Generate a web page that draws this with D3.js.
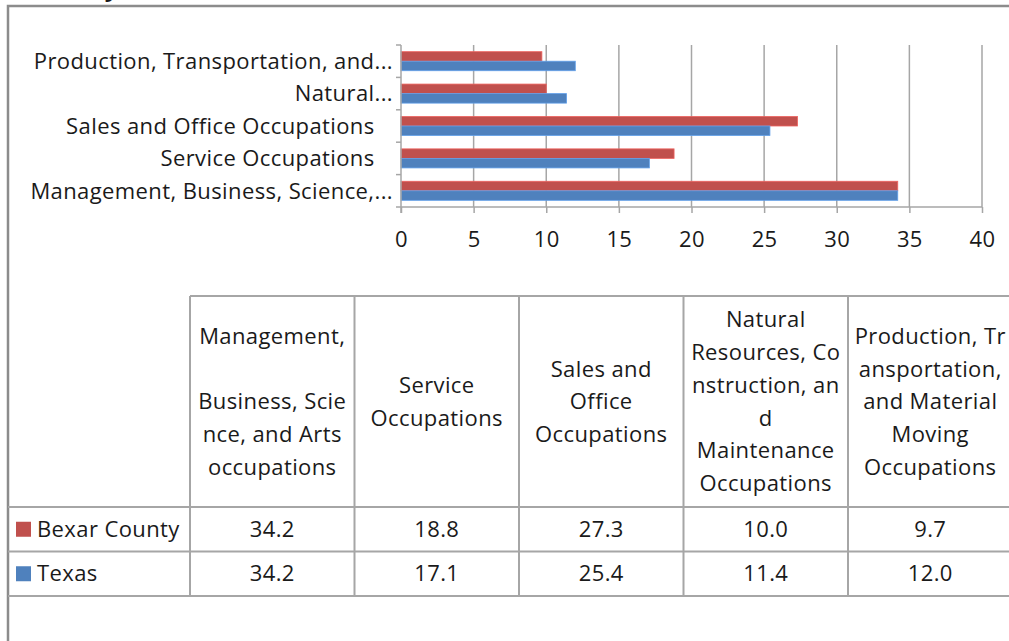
<!DOCTYPE html>
<html>
<head>
<meta charset="utf-8">
<script src="https://cdn.jsdelivr.net/npm/d3@7"></script>
<style>
  body { margin: 0; background: #fff; }
  text { font-family: "Open Sans", sans-serif; fill: #1a1a1a; letter-spacing: 0.4px; }
</style>
</head>
<body>
<div id="chart"></div>
<script>
// categories, bottom to top in the bar chart, left to right in the table
const categories = [
  'Management, Business, Science, and Arts occupations',
  'Service Occupations',
  'Sales and Office Occupations',
  'Natural Resources, Construction, and Maintenance Occupations',
  'Production, Transportation, and Material Moving Occupations'
];
// axis labels as Excel truncates them
const axisLabels = [
  'Management, Business, Science,...',
  'Service Occupations\u00a0\u00a0\u00a0',
  'Sales and Office Occupations\u00a0\u00a0\u00a0',
  'Natural...',
  'Production, Transportation, and...'
];
// table header, wrapped the way the data table wraps it
const headerLines = [
  ['Management,', '', 'Business, Scie', 'nce, and Arts', 'occupations'],
  ['Service', 'Occupations'],
  ['Sales and', 'Office', 'Occupations'],
  ['Natural', 'Resources, Co', 'nstruction, an', 'd', 'Maintenance', 'Occupations'],
  ['Production, Tr', 'ansportation,', 'and Material', 'Moving', 'Occupations']
];
const seriesNames = ['Bexar County', 'Texas'];
const bexar = [34.2, 18.8, 27.3, 10.0, 9.7];
const texas = [34.2, 17.1, 25.4, 11.4, 12.0];
const xTicks = [0, 5, 10, 15, 20, 25, 30, 35, 40];
const colors = ['#C0504D', '#4F81BD'];

const width = 1009, height = 641;
const fs = 22;

const svg = d3.select('#chart')
  .append('svg')
  .attr('width', width)
  .attr('height', height);

// title, almost entirely cut off at the top of the picture
svg.append('text')
  .attr('x', 126).attr('y', -4)
  .attr('text-anchor', 'end')
  .style('font-weight', 'bold')
  .style('font-size', '24px')
  .text('Bexar County,');

// outer chart frame
svg.append('path')
  .attr('d', 'M8,' + height + 'V6H' + width)
  .attr('fill', 'none')
  .attr('stroke', '#8c8c8c')
  .attr('stroke-width', 2.5);

// ---- bar chart ----
const plot = {left: 401, right: 982, top: 45, bottom: 207};

const x = d3.scaleLinear()
  .domain([0, 40])
  .range([plot.left, plot.right]);

const y = d3.scaleBand()
  .domain(categories)
  .range([plot.bottom, plot.top]);

const ySub = d3.scaleBand()
  .domain(seriesNames)
  .range([0, y.bandwidth()])
  .paddingOuter(0.7);

const g = svg.append('g');

// gridlines
g.selectAll('line.grid')
  .data(xTicks.slice(1))
  .enter().append('line')
  .attr('class', 'grid')
  .attr('x1', d => x(d)).attr('x2', d => x(d))
  .attr('y1', plot.top).attr('y2', plot.bottom)
  .attr('stroke', '#a6a6a6')
  .attr('stroke-width', 1.5);

const rows = seriesNames.map((s, i) => ({name: s, values: i === 0 ? bexar : texas, color: colors[i]}));

rows.forEach(r => {
  g.selectAll(null)
    .data(categories)
    .enter().append('rect')
    .attr('x', x(0))
    .attr('y', d => y(d) + ySub(r.name))
    .attr('width', (d, i) => x(r.values[i]) - x(0))
    .attr('height', ySub.bandwidth())
    .attr('fill', r.color)
    .attr('stroke', d3.color(r.color).brighter(0.6))
    .attr('stroke-width', 0.8);
});

// x axis
const xAxis = g.append('g')
  .attr('transform', 'translate(0,' + plot.bottom + ')')
  .call(d3.axisBottom(x).tickValues(xTicks).tickSize(6).tickPadding(18));
xAxis.select('.domain').attr('stroke', '#a6a6a6').attr('stroke-width', 1.5)
  .attr('d', 'M' + (plot.left - 5) + ',0H' + plot.right);
xAxis.selectAll('.tick line').attr('stroke', '#a6a6a6').attr('stroke-width', 1.5);
xAxis.selectAll('.tick text').style('font-size', fs + 'px').attr('fill', '#1a1a1a');

// y axis with category boundaries as ticks
const yAxis = g.append('g')
  .attr('transform', 'translate(' + plot.left + ',0)');
yAxis.append('line')
  .attr('x1', 0).attr('x2', 0)
  .attr('y1', plot.top).attr('y2', plot.bottom + 6)
  .attr('stroke', '#a6a6a6').attr('stroke-width', 1.5);
yAxis.selectAll('line.tick')
  .data(categories)
  .enter().append('line')
  .attr('class', 'tick')
  .attr('x1', -5).attr('x2', 0)
  .attr('y1', d => y(d)).attr('y2', d => y(d))
  .attr('stroke', '#a6a6a6').attr('stroke-width', 1.5);
yAxis.selectAll('text')
  .data(categories)
  .enter().append('text')
  .attr('x', -8)
  .attr('y', d => y(d) + y.bandwidth() / 2)
  .attr('dy', '0.35em')
  .attr('text-anchor', 'end')
  .style('font-size', fs + 'px')
  .text((d, i) => axisLabels[i]);

// ---- data table ----
const table = {left: 8, colStart: 190, top: 296, headBottom: 507, rowH: 44.5};
const col = d3.scaleBand()
  .domain(categories)
  .range([table.colStart, table.colStart + 5 * 164.5]);

const t = svg.append('g');
const lineColor = '#a6a6a6';
const rowBottoms = [table.headBottom, table.headBottom + table.rowH, table.headBottom + 2 * table.rowH];

// horizontal rules
t.append('line')
  .attr('x1', table.colStart).attr('x2', width)
  .attr('y1', table.top).attr('y2', table.top)
  .attr('stroke', lineColor).attr('stroke-width', 2);
t.selectAll('line.h')
  .data(rowBottoms)
  .enter().append('line')
  .attr('class', 'h')
  .attr('x1', table.left).attr('x2', width)
  .attr('y1', d => d).attr('y2', d => d)
  .attr('stroke', lineColor).attr('stroke-width', 2);
// vertical rules
t.selectAll('line.v')
  .data(categories)
  .enter().append('line')
  .attr('class', 'v')
  .attr('x1', d => col(d)).attr('x2', d => col(d))
  .attr('y1', table.top).attr('y2', rowBottoms[2])
  .attr('stroke', lineColor).attr('stroke-width', 2);

// header text
const lh = 32.7;
const headMid = (table.top + table.headBottom) / 2;
categories.forEach((c, i) => {
  const lines = headerLines[i];
  const y0 = headMid - (lines.length - 1) * lh / 2;
  t.append('text')
    .attr('text-anchor', 'middle')
    .style('font-size', fs + 'px')
    .selectAll('tspan')
    .data(lines)
    .enter().append('tspan')
    .attr('x', col(c) + col.bandwidth() / 2)
    .attr('y', (d, j) => y0 + j * lh)
    .attr('dy', '0.35em')
    .text(d => d);
});

// value rows with legend keys
rows.forEach((r, ri) => {
  const cy = table.headBottom + table.rowH * ri + table.rowH / 2;
  t.append('rect')
    .attr('x', 16).attr('y', cy - 7.5)
    .attr('width', 15).attr('height', 15)
    .attr('fill', r.color);
  t.append('text')
    .attr('x', 37).attr('y', cy).attr('dy', '0.35em')
    .style('font-size', fs + 'px')
    .text(r.name);
  t.selectAll(null)
    .data(categories)
    .enter().append('text')
    .attr('x', d => col(d) + col.bandwidth() / 2)
    .attr('y', cy).attr('dy', '0.35em')
    .attr('text-anchor', 'middle')
    .style('font-size', fs + 'px')
    .text((d, i) => r.values[i].toFixed(1));
});
</script>
</body>
</html>
